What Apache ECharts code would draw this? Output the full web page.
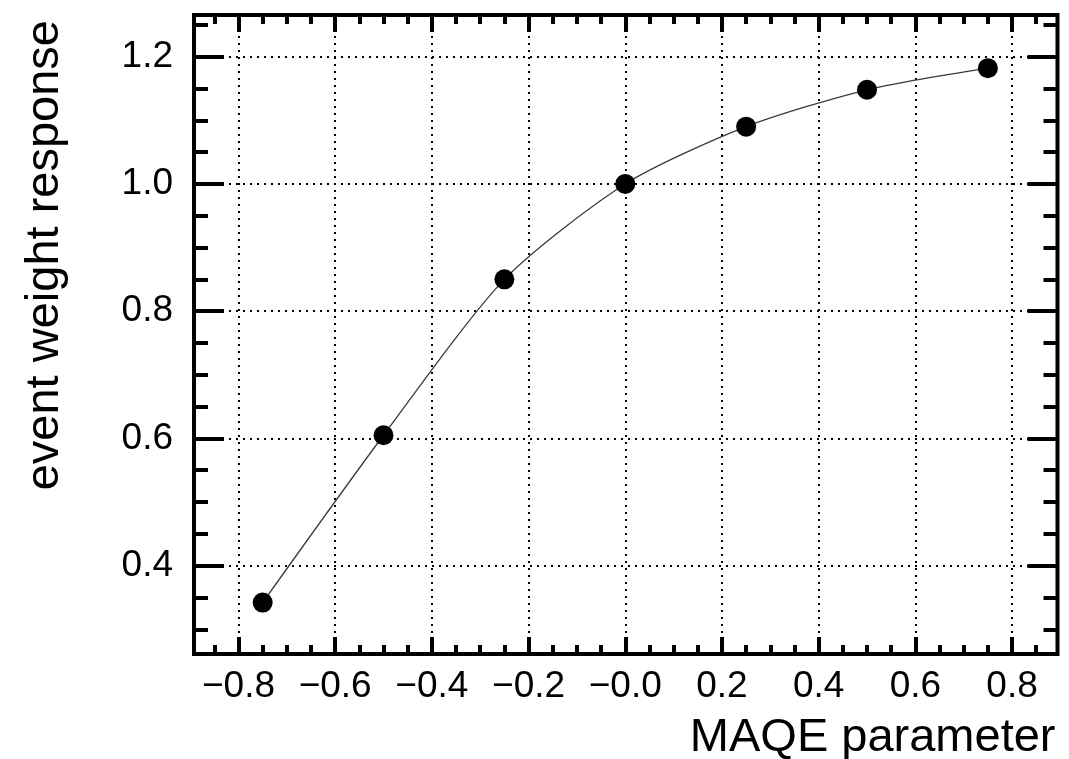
<!DOCTYPE html>
<html>
<head>
<meta charset="utf-8">
<script src="https://cdn.jsdelivr.net/npm/echarts@6/dist/echarts.min.js"></script>
<style>
  html, body { margin: 0; padding: 0; background: #fff; }
  #chart { width: 1069px; height: 759px; }
</style>
</head>
<body>
<div id="chart"></div>
<script>
// ---- data ----
const xValues = [-0.75, -0.5, -0.25, 0.0, 0.25, 0.5, 0.75];
const yValues = [0.342, 0.605, 0.850, 1.000, 1.090, 1.148, 1.182];

const xTicks = [-0.8, -0.6, -0.4, -0.2, 0.0, 0.2, 0.4, 0.6, 0.8];
const xTickLabels = ['\u22120.8', '\u22120.6', '\u22120.4', '\u22120.2', '\u22120.0', '0.2', '0.4', '0.6', '0.8'];
const yTicks = [0.4, 0.6, 0.8, 1.0, 1.2];
const yTickLabels = ['0.4', '0.6', '0.8', '1.0', '1.2'];

const xTitle = 'MAQE parameter';
const yTitle = 'event weight response';

// axis ranges
const XMIN = -0.892, XMAX = 0.894;
const YMIN = 0.2612, YMAX = 1.2655;

// minor ticks every 0.05 (not on majors)
function minorTicks(lo, hi) {
  const out = [];
  for (let i = Math.ceil(lo / 0.05 - 1e-9); i <= Math.floor(hi / 0.05 + 1e-9); i++) {
    if (i % 4 !== 0) out.push(Math.round(i * 5) / 100);
  }
  return out;
}
const xMinor = minorTicks(XMIN, XMAX);
const yMinor = minorTicks(YMIN, YMAX);

const FONT = "'Liberation Sans', Arial, Helvetica, sans-serif";

function labelFor(ticks, labels) {
  return function (v) {
    let best = 0, d = Infinity;
    ticks.forEach((t, i) => { const dd = Math.abs(t - v); if (dd < d) { d = dd; best = i; } });
    return labels[best];
  };
}

function makeAxis(kind, position, ticks, tickLen, showLabels) {
  const isX = kind === 'x';
  return {
    type: 'value',
    position: position,
    min: isX ? XMIN : YMIN,
    max: isX ? XMAX : YMAX,
    axisLine: { show: false, onZero: false },
    axisTick: {
      show: true, inside: true, length: tickLen, customValues: ticks,
      lineStyle: { color: '#000', width: 4 }
    },
    axisLabel: showLabels ? {
      show: true, customValues: ticks,
      formatter: isX ? labelFor(xTicks, xTickLabels) : labelFor(yTicks, yTickLabels),
      color: '#000', fontSize: 37, fontFamily: FONT,
      margin: isX ? 14 : 21
    } : { show: false },
    splitLine: { show: false },
    minorTick: { show: false },
    minorSplitLine: { show: false }
  };
}

const chart = echarts.init(document.getElementById('chart'), null, { renderer: 'canvas' });

const option = {
  animation: false,
  backgroundColor: '#fff',
  grid: {
    left: 194, right: 11.5, top: 15, bottom: 105,
    show: true, borderColor: '#000', borderWidth: 4,
    backgroundColor: 'transparent',
    containLabel: false, outerBoundsMode: 'none'
  },
  xAxis: [
    makeAxis('x', 'bottom', xTicks, 17, true),
    makeAxis('x', 'bottom', xMinor, 9, false),
    makeAxis('x', 'top', xTicks, 17, false),
    makeAxis('x', 'top', xMinor, 9, false)
  ],
  yAxis: [
    makeAxis('y', 'left', yTicks, 30, true),
    makeAxis('y', 'left', yMinor, 14, false),
    makeAxis('y', 'right', yTicks, 30, false),
    makeAxis('y', 'right', yMinor, 14, false)
  ],
  series: [
    {
      type: 'line',
      xAxisIndex: 0, yAxisIndex: 0,
      data: xValues.map((x, i) => [x, yValues[i]]),
      smooth: 0.25,
      symbol: 'circle',
      symbolSize: 20,
      itemStyle: { color: '#000' },
      lineStyle: { color: '#3a3a3a', width: 1.3 },
      z: 3,
      markLine: {
        silent: true,
        z: 1,
        symbol: ['none', 'none'],
        label: { show: false },
        lineStyle: { color: '#000', width: 2, type: [2, 5] },
        emphasis: { disabled: true },
        data: xTicks.map(v => ({ xAxis: v })).concat(yTicks.map(v => ({ yAxis: v })))
      }
    }
  ],
  graphic: [
    {
      type: 'text', x: 1055.5, y: 738,
      style: { text: xTitle, fill: '#000', font: '47px ' + FONT, align: 'right', verticalAlign: 'middle' }
    },
    {
      type: 'text', x: 45, y: 20, rotation: Math.PI / 2,
      style: { text: yTitle, fill: '#000', font: '47px ' + FONT, align: 'right', verticalAlign: 'middle' }
    }
  ]
};

chart.setOption(option);
</script>
</body>
</html>
